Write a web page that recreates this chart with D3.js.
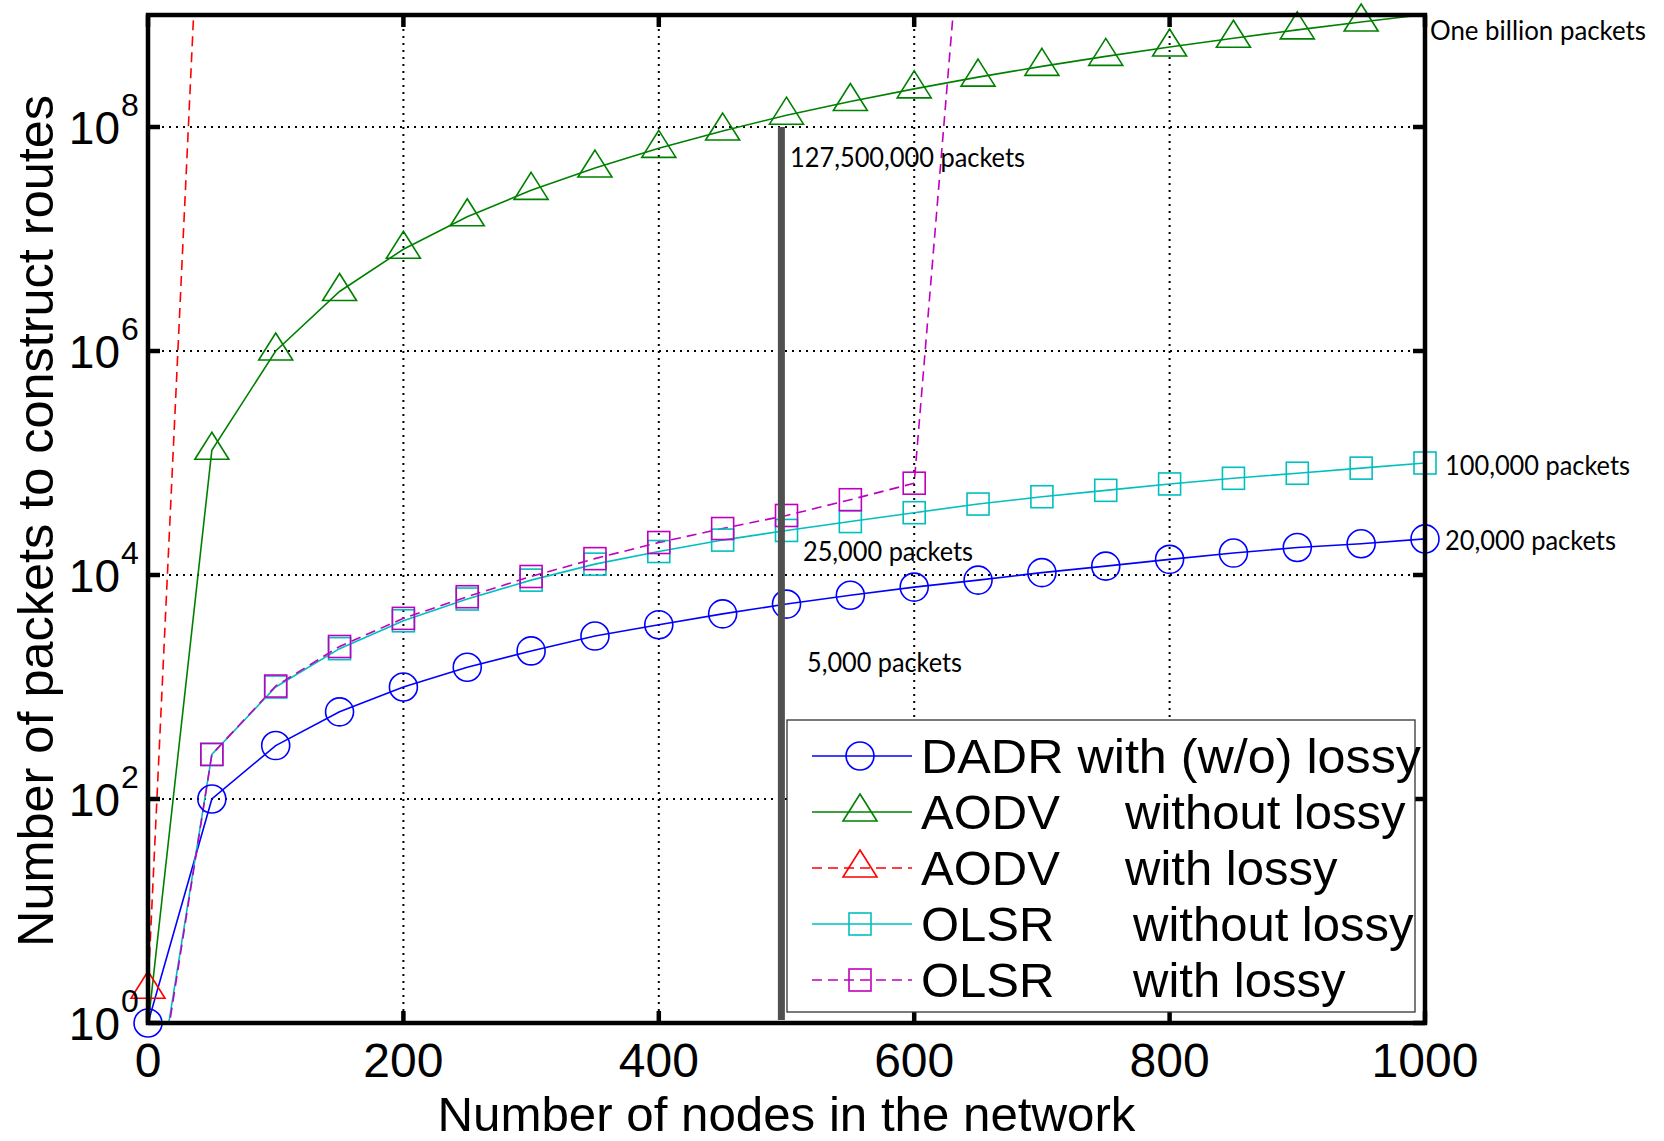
<!DOCTYPE html>
<html>
<head>
<meta charset="utf-8">
<script src="https://cdn.jsdelivr.net/npm/d3@7"></script>
<style>
  body { margin: 0; background: #fff; }
  svg { display: block; }
  .tick-label { font-family: "Liberation Sans", Arial, sans-serif; fill: #000; }
  .note { font-family: Lato, "Open Sans", sans-serif; fill: #000; }
</style>
</head>
<body>
<svg id="chart" width="1664" height="1141"></svg>
<script>
// node counts (x) and packet counts per protocol
const nodes = [0, 50, 100, 150, 200, 250, 300, 350, 400, 450, 500,
               550, 600, 650, 700, 750, 800, 850, 900, 950, 1000];

const dadr = [1, 100, 300, 600, 1000, 1500, 2100, 2850, 3600, 4500, 5500,
              6600, 7800, 9000, 10500, 12000, 13800, 15700, 17600, 19000, 21000];

const aodv = [0.95, 1.3e5, 1.0e6, 3.4e6, 8.1e6, 1.58e7, 2.72e7, 4.3e7, 6.45e7, 9.2e7, 1.275e8,
              1.69e8, 2.19e8, 2.79e8, 3.48e8, 4.27e8, 5.18e8, 6.2e8, 7.37e8, 8.66e8, 1.01e9];

const aodvLossy = [2, 3e12];

const olsr = [0.07, 250, 1000, 2200, 3900, 6100, 9000, 12500, 16200, 20500, 25000,
              30000, 36000, 43000, 50000, 57000, 65000, 73000, 81000, 90000, 100000];

const olsrLossy = [0.06, 250, 1020, 2300, 4100, 6400, 9700, 14000, 19500, 26000, 34000,
                   47000, 66000, 5e11];

const xTicks = [0, 200, 400, 600, 800, 1000];
const yTickExps = [0, 2, 4, 6, 8];

const legendNames = ["DADR with (w/o) lossy", "AODV", "AODV", "OLSR", "OLSR"];
const legendDescs = ["", "without lossy", "with lossy", "without lossy", "with lossy"];

const noteTexts = ["One billion packets", "127,500,000 packets", "100,000 packets",
                   "20,000 packets", "25,000 packets", "5,000 packets"];
const markNode = 496;   // node count of the vertical marker line

// ---- layout
const svg = d3.select("#chart");
const L = 148, R = 1425, T = 15, B = 1023;

const x = d3.scaleLinear().domain([0, 1000]).range([L, R]);
const y = d3.scaleLog().domain([1, 1e9]).range([B, T]);

const series = [
  {vals: dadr,      color: "#0000ff", dash: null,   mark: "circle"},
  {vals: aodv,      color: "#008000", dash: null,   mark: "tri"},
  {vals: aodvLossy, color: "#ff0000", dash: "10,6", mark: "tri"},
  {vals: olsr,      color: "#00bfbf", dash: null,   mark: "square"},
  {vals: olsrLossy, color: "#bf00bf", dash: "10,6", mark: "square"}
];

svg.append("rect").attr("width", 1664).attr("height", 1141).attr("fill", "#fff");

svg.append("clipPath").attr("id", "plotclip")
  .append("rect").attr("x", L).attr("y", T).attr("width", R - L).attr("height", B - T);

// grid
const grid = svg.append("g").attr("stroke", "#000").attr("stroke-width", 2)
  .attr("stroke-dasharray", "2,5");
xTicks.filter(d => d > 0 && d < 1000).forEach(d => {
  grid.append("line").attr("x1", x(d)).attr("x2", x(d)).attr("y1", T).attr("y2", B);
});
yTickExps.filter(e => e > 0).forEach(e => {
  grid.append("line").attr("x1", L).attr("x2", R).attr("y1", y(Math.pow(10, e))).attr("y2", y(Math.pow(10, e)));
});

// lines, computed in log space so out-of-domain values still give straight segments
function py(v) { return B - (Math.log10(v) / 9) * (B - T); }
const line = d3.line().x((d, i) => x(nodes[i])).y(d => py(d));

const plot = svg.append("g");
series.forEach(s => {
  plot.append("path")
    .attr("clip-path", "url(#plotclip)")
    .attr("d", line(s.vals))
    .attr("fill", "none")
    .attr("stroke", s.color)
    .attr("stroke-width", 1.6)
    .attr("stroke-dasharray", s.dash);
});

function drawMarker(g, kind, cx, cy) {
  if (kind === "circle") {
    g.append("circle").attr("cx", cx).attr("cy", cy).attr("r", 14);
  } else if (kind === "square") {
    g.append("rect").attr("x", cx - 11).attr("y", cy - 11).attr("width", 22).attr("height", 22);
  } else {
    g.append("path").attr("d", `M${cx},${cy - 18}L${cx + 17},${cy + 9}L${cx - 17},${cy + 9}Z`);
  }
}

series.forEach(s => {
  const g = plot.append("g").attr("fill", "none").attr("stroke", s.color).attr("stroke-width", 1.6);
  s.vals.forEach((v, i) => {
    if (v >= 1 && v <= 1e9) drawMarker(g, s.mark, x(nodes[i]), y(v));
  });
});

// axes box and ticks
const ax = svg.append("g").attr("stroke", "#000").attr("stroke-width", 4.5);
ax.append("rect").attr("x", L).attr("y", T).attr("width", R - L).attr("height", B - T).attr("fill", "none");
xTicks.forEach(d => {
  ax.append("line").attr("x1", x(d)).attr("x2", x(d)).attr("y1", B).attr("y2", B - 12);
  ax.append("line").attr("x1", x(d)).attr("x2", x(d)).attr("y1", T).attr("y2", T + 12);
});
yTickExps.forEach(e => {
  const yy = y(Math.pow(10, e));
  ax.append("line").attr("x1", L).attr("x2", L + 12).attr("y1", yy).attr("y2", yy);
  ax.append("line").attr("x1", R).attr("x2", R - 12).attr("y1", yy).attr("y2", yy);
});

// tick labels
svg.append("g").selectAll("text").data(xTicks).join("text")
  .attr("class", "tick-label")
  .attr("x", d => x(d)).attr("y", 1077)
  .attr("text-anchor", "middle").attr("font-size", 48)
  .text(d => d);

yTickExps.forEach(e => {
  const yy = y(Math.pow(10, e));
  svg.append("text").attr("class", "tick-label")
    .attr("x", 120).attr("y", yy + 16.5).attr("text-anchor", "end").attr("font-size", 46)
    .text("10");
  svg.append("text").attr("class", "tick-label")
    .attr("x", 121).attr("y", yy - 11).attr("font-size", 32)
    .text(e);
});

// axis titles
svg.append("text").attr("class", "tick-label")
  .attr("x", (L + R) / 2).attr("y", 1131).attr("text-anchor", "middle")
  .attr("font-size", 48).attr("textLength", 698).attr("lengthAdjust", "spacingAndGlyphs")
  .text("Number of nodes in the network");

svg.append("text").attr("class", "tick-label")
  .attr("transform", "translate(53,521) rotate(-90)")
  .attr("text-anchor", "middle").attr("font-size", 50)
  .attr("textLength", 852).attr("lengthAdjust", "spacingAndGlyphs")
  .text("Number of packets to construct routes");

// legend
const lg = svg.append("g");
lg.append("rect").attr("x", 787).attr("y", 720).attr("width", 628).attr("height", 292)
  .attr("fill", "#fff").attr("stroke", "#333").attr("stroke-width", 1.3);
const descX = [null, 1125, 1125, 1133, 1133];
series.forEach((s, i) => {
  const cy = 756 + i * 56;
  lg.append("line").attr("x1", 812).attr("x2", 912).attr("y1", cy).attr("y2", cy)
    .attr("stroke", s.color).attr("stroke-width", 1.6).attr("stroke-dasharray", s.dash);
  const g = lg.append("g").attr("fill", "none").attr("stroke", s.color).attr("stroke-width", 1.6);
  drawMarker(g, s.mark, 860, cy);
  const t = lg.append("text").attr("class", "tick-label").attr("x", 921).attr("y", cy + 17)
    .attr("font-size", 49).text(legendNames[i]);
  if (i === 0) t.attr("textLength", 500).attr("lengthAdjust", "spacingAndGlyphs");
  if (legendDescs[i]) {
    lg.append("text").attr("class", "tick-label").attr("x", descX[i]).attr("y", cy + 17)
      .attr("font-size", 49).text(legendDescs[i]);
  }
});

// vertical marker at 500 nodes
svg.append("line")
  .attr("x1", x(markNode)).attr("x2", x(markNode))
  .attr("y1", y(1e8)).attr("y2", B - 3)
  .attr("stroke", "#505050").attr("stroke-width", 7);

// annotation texts
const notePos = [[1430, 40, 216], [790, 167, 235], [1445, 475, 185],
                 [1445, 550, 171], [803, 561, 170], [807, 672, 155]];
noteTexts.forEach((t, i) => {
  svg.append("text").attr("class", "note")
    .attr("x", notePos[i][0]).attr("y", notePos[i][1])
    .attr("font-size", 26)
    .attr("textLength", notePos[i][2]).attr("lengthAdjust", "spacingAndGlyphs")
    .text(t);
});
</script>
</body>
</html>
